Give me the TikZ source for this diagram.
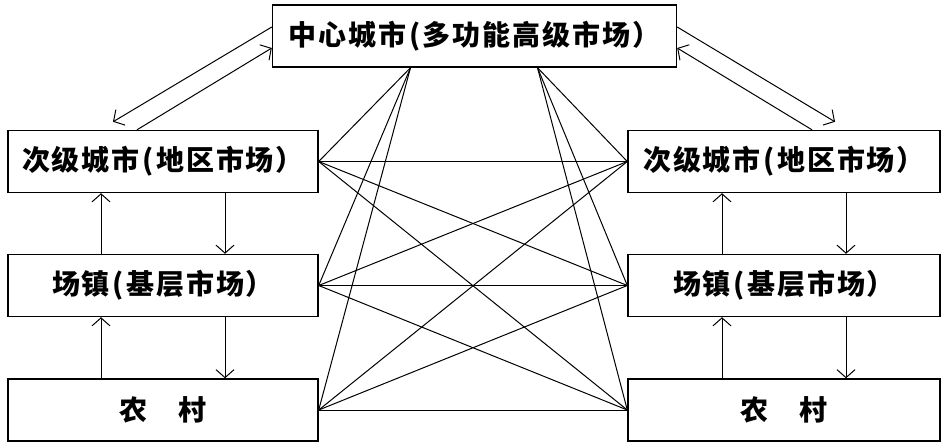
\documentclass[tikz,border=0pt]{standalone}
\usepackage{fontspec}
\newfontfamily\cjk[LetterSpace=7]{Noto Sans CJK SC}
\usetikzlibrary{arrows.meta}

\begin{document}
\begin{tikzpicture}[x=1pt, y=-1pt,
  market/.style={draw=black, line width=1.4pt, fill=white,
    minimum width=310pt, minimum height=62pt, inner sep=0pt,
    font=\cjk\bfseries\fontsize{28}{34}\selectfont},
  link/.style={line width=1pt},
  arw/.style={-{Straight Barb[length=8pt,width=18pt]}, line width=1pt},
]
\useasboundingbox (0,0) rectangle (945,447);

% central market on top
\node[market, minimum width=404pt] (hub) at (474.5,36) {中心城市\hspace{3pt}(多功能高级市场）};

% left column
\node[market] (lsub) at (163,161.5) {次级城市\hspace{3pt}(地区市场）};
\node[market] (ltown) at (163,285.5) {场镇\hspace{3pt}(基层市场）};
\node[market] (lrural) at (163,410) {农　村};

% right column
\node[market, minimum width=312pt] (rsub) at (784,161.5) {次级城市\hspace{3pt}(地区市场）};
\node[market, minimum width=312pt] (rtown) at (784,285.5) {场镇\hspace{3pt}(基层市场）};
\node[market, minimum width=312pt] (rrural) at (784,410) {农　村};

% two-way arrows between hub and regional cities
\draw[arw] ([yshift=9pt]hub.west) -- ([xshift=-50pt,yshift=8pt]lsub.north);
\draw[arw] ([xshift=-26pt]lsub.north) -- ([yshift=-12pt]hub.west);
\draw[arw] ([yshift=9pt]hub.east) -- ([xshift=51pt,yshift=8pt]rsub.north);
\draw[arw] ([xshift=28pt]rsub.north) -- ([yshift=-12pt]hub.east);

% vertical flows inside each column
\foreach \a/\b in {lsub/ltown, ltown/lrural, rsub/rtown, rtown/rrural}{
  \draw[arw] ([xshift=-62pt]\b.north) -- ([xshift=-62pt]\a.south);
  \draw[arw] ([xshift=62pt]\a.south) -- ([xshift=62pt]\b.north);
}

% hub to every market of its side
\foreach \t in {lsub, ltown, lrural}
  \draw[link] ([xshift=-64pt]hub.south) -- (\t.east);
\foreach \t in {rsub, rtown, rrural}
  \draw[link] ([xshift=63pt]hub.south) -- (\t.west);

% every left market to every right market
\foreach \l in {lsub, ltown, lrural}
  \foreach \r in {rsub, rtown, rrural}
    \draw[link] (\l.east) -- (\r.west);
\end{tikzpicture}
\end{document}
